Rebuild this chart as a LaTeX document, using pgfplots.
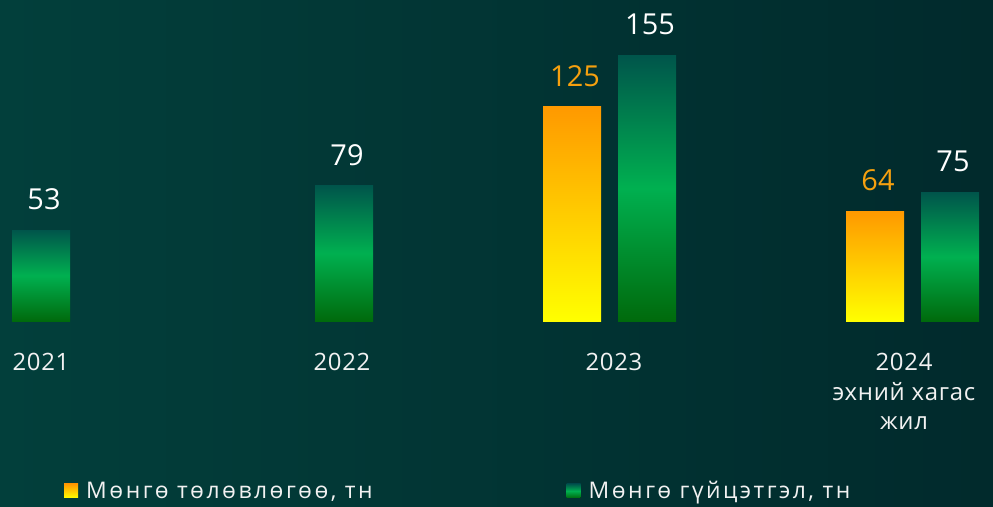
\documentclass[border=0pt]{standalone}
\usepackage{pgfplots}
\pgfplotsset{compat=1.18}
\usepackage{fontspec}
\setmainfont{Open Sans}

\definecolor{bgL}{HTML}{023F3B}
\definecolor{bgR}{HTML}{012A2C}
\definecolor{gTop}{HTML}{00554B}
\definecolor{gMid}{HTML}{00B050}
\definecolor{gBot}{HTML}{006A0C}
\definecolor{oTop}{HTML}{FF9900}
\definecolor{oBot}{HTML}{FFFF00}
\definecolor{valOrange}{HTML}{F5A00F}
\definecolor{txt}{HTML}{F2F2F2}

\tikzset{valfont/.style={anchor=south, inner sep=0pt, yshift=20bp, xshift=3bp,
        font=\fontsize{29}{29}\selectfont}}
\pgfplotsset{
    plan/.style={ybar, bar width=58, bar shift=0pt, draw=none,
        top color=oTop, bottom color=oBot,
        nodes near coords, nodes near coords style={valfont, text=valOrange}},
    fact/.style={ybar, bar width=58, bar shift=0pt, draw=none,
        top color=gTop, bottom color=gBot, middle color=gMid,
        nodes near coords, nodes near coords style={valfont, text=white}},
}

\begin{document}
\begin{tikzpicture}[x=1bp,y=1bp]
\shade[left color=bgL, right color=bgR] (0,0) rectangle (993,506);
\begin{axis}[
    at={(0bp,185bp)}, anchor=south west,
    scale only axis,
    width=993bp, height=321bp,
    xmin=0, xmax=993,
    ymin=0, ymax=187.06,
    clip=false,
    /pgf/number format/assume math mode=true,
    axis line style={draw=none},
    major tick length=0pt,
    ytick=\empty,
    xtick={41,342,614,904},
    xticklabels={2021,2022,2023,{2024\\эхний хагас\\жил}},
    xticklabel style={align=center, anchor=north, inner sep=0pt, yshift=-32bp,
        text=txt, font=\fontsize{24}{29.5}\selectfont\addfontfeatures{LetterSpace=3}},
    legend columns=2,
    legend style={at={(axis cs:64,-99)}, anchor=west, draw=none, fill=none,
        inner sep=0pt, text=txt,
        font=\fontsize{23}{26}\selectfont\addfontfeatures{LetterSpace=11},
        /tikz/every odd column/.append style={column sep=6bp},
        /tikz/every even column/.append style={column sep=192bp}},
    legend image code/.code={\fill[#1] (0bp,-7bp) rectangle (14bp,7bp);},
]
% plan
\addplot[plan] coordinates {(572,125)};
\addlegendentry{Мөнгө төлөвлөгөө, тн}
\addplot[plan, forget plot] coordinates {(875,64)};
% actual
\addplot[fact] coordinates {(41,53)};
\addlegendentry{Мөнгө гүйцэтгэл, тн}
\addplot[fact, forget plot] coordinates {(344,79)};
\addplot[fact, forget plot] coordinates {(647,155)};
\addplot[fact, forget plot] coordinates {(950,75)};
\end{axis}
\end{tikzpicture}
\end{document}
